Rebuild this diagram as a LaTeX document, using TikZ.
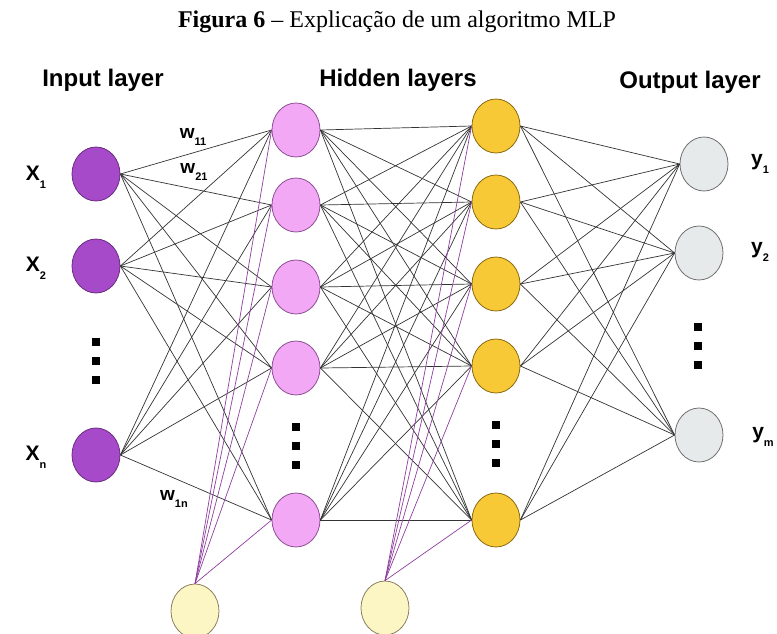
\documentclass[tikz,border=0pt]{standalone}
\usepackage{fontspec}
\setmainfont{Liberation Serif}
\newfontfamily\labelfont{Liberation Sans}
\usetikzlibrary{shapes.geometric}

\definecolor{inputfill}{HTML}{A64AC9}
\definecolor{inputdraw}{HTML}{6A2C80}
\definecolor{hidafill}{HTML}{F3A8F6}
\definecolor{hidadraw}{HTML}{8E4E94}
\definecolor{hidbfill}{HTML}{F7C936}
\definecolor{hidbdraw}{HTML}{8A6A10}
\definecolor{biasfill}{HTML}{FCF5C4}
\definecolor{biasdraw}{HTML}{8A8060}
\definecolor{outfill}{HTML}{E6EAEA}
\definecolor{outdraw}{HTML}{707070}
\definecolor{biaslink}{HTML}{8E3E9E}

% subscript label: \sublbl{X}{1}
\newcommand{\sublbl}[2]{#1\raisebox{-0.4em}{\fontsize{11}{11}\selectfont #2}}

\begin{document}
\begin{tikzpicture}[
  x=1pt, y=-1pt,
  every node/.style={font=\labelfont\bfseries},
  neuron/.style={ellipse, draw, line width=0.8pt, minimum width=48pt,
    minimum height=54pt, inner sep=0pt},
  link/.style={black!80, line width=0.7pt},
  biasedge/.style={biaslink, line width=0.7pt},
]

% ---- Frame (fixes the page size) ----
\useasboundingbox (0,0) rectangle (777,633);

% ---- Title ----
\node[font=\fontsize{24}{28}\selectfont\rmfamily] (title) at (397,22)
  {\textbf{Figura 6} -- Explicação de um algoritmo MLP};

% ---- Layer titles ----
\node[font=\labelfont\bfseries\fontsize{24}{27}\selectfont] (tin) at (103,80) {Input layer};
\node[font=\labelfont\bfseries\fontsize{24}{27}\selectfont] (thid) at (398,80) {Hidden layers};
\node[font=\labelfont\bfseries\fontsize{24}{27}\selectfont] (tout) at (690,82) {Output layer};

% ---- Input layer ----
\foreach \n/\y in {1/174, 2/266, n/455}
  \node[neuron, fill=inputfill, draw=inputdraw] (in\n) at (96,\y) {};

% ---- Hidden layer A (pink) ----
\foreach \n/\y in {1/130, 2/205, 3/287, 4/368, 5/520}
  \node[neuron, fill=hidafill, draw=hidadraw] (ha\n) at (296,\y) {};

% ---- Hidden layer B (yellow) ----
\foreach \n/\y in {1/126, 2/202, 3/284, 4/366, 5/520}
  \node[neuron, fill=hidbfill, draw=hidbdraw] (hb\n) at (496,\y) {};

% ---- Bias neurons ----
\node[neuron, fill=biasfill, draw=biasdraw] (bias1) at (195,611) {};
\node[neuron, fill=biasfill, draw=biasdraw] (bias2) at (385,608) {};

% ---- Output layer ----
\foreach \n/\x/\y in {1/704/164, 2/699/253, m/699/435}
  \node[neuron, fill=outfill, draw=outdraw] (out\n) at (\x,\y) {};

% ---- Connections ----
\foreach \i in {1,2,n}
  \foreach \h in {1,...,5}
    \draw[link] (in\i.east) -- (ha\h.west);

\foreach \a in {1,...,5}
  \foreach \b in {1,...,5}
    \draw[link] (ha\a.east) -- (hb\b.west);

\foreach \b in {1,...,5}
  \foreach \o in {1,2,m}
    \draw[link] (hb\b.east) -- (out\o.west);

\foreach \h in {1,...,5} {
  \draw[biasedge] (bias1.north) -- (ha\h.west);
  \draw[biasedge] (bias2.north) -- (hb\h.west);
}

% ---- Ellipsis dots ----
\foreach \x/\y in {96/342, 96/361, 96/380,
                   296/427, 296/446, 296/465,
                   496/425, 496/444, 496/463,
                   698/327, 698/346, 698/365}
  \fill (\x-4,\y-4) rectangle (\x+4,\y+4);

% ---- Neuron labels ----
\node[font=\labelfont\bfseries\fontsize{21}{24}\selectfont] (lx1) at (36,177) {\sublbl{X}{1}};
\node[font=\labelfont\bfseries\fontsize{21}{24}\selectfont] (lx2) at (36,268) {\sublbl{X}{2}};
\node[font=\labelfont\bfseries\fontsize{21}{24}\selectfont] (lxn) at (36,457) {\sublbl{X}{n}};

\node[font=\labelfont\bfseries\fontsize{21}{24}\selectfont] (ly1) at (760,164) {\sublbl{y}{1}};
\node[font=\labelfont\bfseries\fontsize{21}{24}\selectfont] (ly2) at (760,252) {\sublbl{y}{2}};
\node[font=\labelfont\bfseries\fontsize{21}{24}\selectfont] (lym) at (763,437) {\sublbl{y}{m}};

% ---- Weight labels ----
\node[font=\labelfont\bfseries\fontsize{19}{22}\selectfont] (w11) at (193,137) {\sublbl{w}{11}};
\node[font=\labelfont\bfseries\fontsize{19}{22}\selectfont] (w21) at (194,172) {\sublbl{w}{21}};
\node[font=\labelfont\bfseries\fontsize{19}{22}\selectfont] (w1n) at (174,499) {\sublbl{w}{1n}};

\end{tikzpicture}
\end{document}
